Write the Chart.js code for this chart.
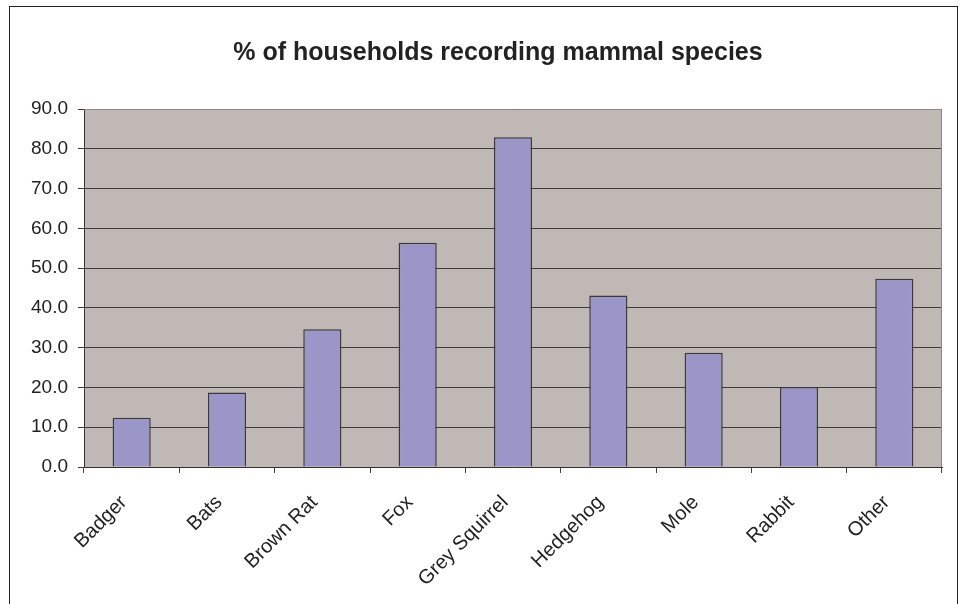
<!DOCTYPE html>
<html>
<head>
<meta charset="utf-8">
<script src="https://cdn.jsdelivr.net/npm/chart.js@4"></script>
<style>
  body { margin: 0; background: #fff; }
  #wrap { width: 962px; height: 604px; }
</style>
</head>
<body>
<div id="wrap"><canvas id="myChart" width="962" height="604"></canvas></div>
<script>
// chart data
const chartTitle = '% of households recording mammal species';
const species = ['Badger', 'Bats', 'Brown Rat', 'Fox', 'Grey Squirrel', 'Hedgehog', 'Mole', 'Rabbit', 'Other'];
const householdPct = [12.4, 18.7, 34.6, 56.4, 82.9, 43.1, 28.7, 20.1, 47.3];
const yMin = 0;
const yMax = 90;
const yStep = 10;

const fontFamily = "'Liberation Sans', Arial, sans-serif";

// plot background, outer frame and title
const frame = {
  id: 'frame',
  beforeDraw(chart) {
    const {ctx, chartArea} = chart;
    ctx.save();
    ctx.fillStyle = '#c0b8b5';
    ctx.fillRect(chartArea.left, chartArea.top, chartArea.right - chartArea.left, chartArea.bottom - chartArea.top);
    ctx.restore();
  },
  afterDraw(chart) {
    const {ctx, chartArea} = chart;
    ctx.save();
    // light edge on top/right of plot
    ctx.strokeStyle = '#8c8684';
    ctx.lineWidth = 1;
    ctx.beginPath();
    ctx.moveTo(chartArea.left, chartArea.top + 0.5);
    ctx.lineTo(chartArea.right - 0.5, chartArea.top + 0.5);
    ctx.lineTo(chartArea.right - 0.5, chartArea.bottom);
    ctx.stroke();
    // outer border
    ctx.strokeStyle = '#222';
    ctx.strokeRect(9.5, 6.5, 948, 640);
    // title
    ctx.fillStyle = '#222';
    ctx.font = 'bold 25px ' + fontFamily;
    ctx.textAlign = 'center';
    ctx.textBaseline = 'middle';
    ctx.fillText(chartTitle, 498, 53);
    ctx.restore();
  }
};

const myChart = document.getElementById('myChart');

let barChart = new Chart(myChart, {
  type: 'bar',
  data: {
    labels: species,
    datasets: [{
      label: chartTitle,
      data: householdPct,
      backgroundColor: '#9b96c8',
      borderColor: '#3a3a3a',
      borderWidth: 1.5,
      borderSkipped: 'bottom',
      barPercentage: 0.4,
      categoryPercentage: 1
    }]
  },
  options: {
    responsive: false,
    animation: false,
    layout: {
      padding: {left: 10, right: 20, top: 109, bottom: 0}
    },
    plugins: {
      legend: {display: false},
      title: {display: false},
      tooltip: {enabled: false}
    },
    scales: {
      x: {
        offset: true,
        grid: {
          offset: true,
          drawOnChartArea: false,
          color: '#444',
          tickLength: 6
        },
        border: {display: true, color: '#333', width: 1},
        ticks: {
          color: '#222',
          font: {family: fontFamily, size: 20},
          minRotation: 45,
          maxRotation: 45,
          padding: 10,
          // trailing spaces push the rotated label down-left like the original
          callback: (v, i) => species[i] + '  '
        },
        afterFit(scale) { scale.height = 137; }
      },
      y: {
        min: yMin,
        max: yMax,
        grid: {
          color: '#3c3c3c',
          tickLength: 6
        },
        border: {display: true, color: '#333', width: 1},
        ticks: {
          stepSize: yStep,
          color: '#222',
          padding: 10,
          font: {family: fontFamily, size: 19},
          callback: v => v.toFixed(1)
        },
        afterFit(scale) { scale.width = 74; }
      }
    }
  },
  plugins: [frame]
});
</script>
</body>
</html>
